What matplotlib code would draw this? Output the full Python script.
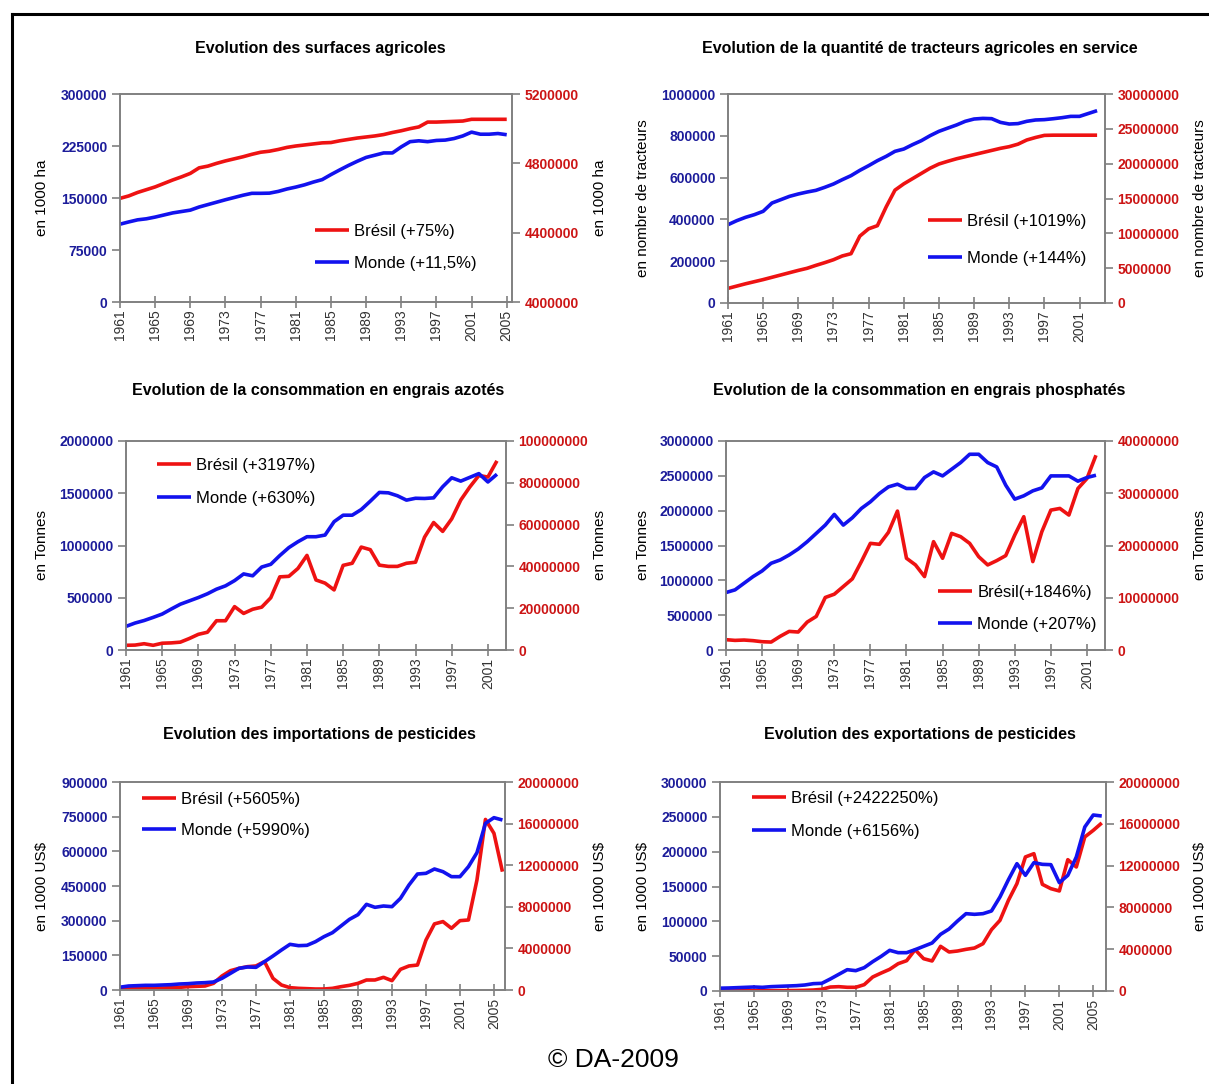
import matplotlib
matplotlib.use("Agg")
import matplotlib.pyplot as plt
from matplotlib.lines import Line2D
from matplotlib.ticker import MultipleLocator, FixedLocator

plt.rcParams['font.family'] = ['Liberation Sans', 'DejaVu Sans']

RED = '#ee1212'
BLUE = '#1212ee'
NAVY = '#1c1c9a'
DARKRED = '#cc1414'
GRID = '#808080'

# --- surfaces agricoles (1000 ha) ---
years_surf = list(range(1961, 2006))
bresil_surf = [149500, 153000, 158000, 162000, 166000, 171000, 176000, 180500, 185500, 193500,
               196000, 200000, 203500, 206500, 209500, 213000, 216000, 217500, 220000, 223000,
               225000, 226500, 228000, 229500, 230000, 232500, 234500, 236500, 238000, 239500,
               241500, 244500, 247000, 250000, 252500, 259500, 259500, 260000, 260500, 261000,
               263500, 263500, 263500, 263500, 263500]
monde_surf = [4449000, 4462000, 4474000, 4480000, 4490000, 4502000, 4514000, 4522000, 4530000, 4548000,
              4562000, 4576000, 4590000, 4603000, 4616000, 4627000, 4627000, 4628000, 4638000, 4652000,
              4663000, 4676000, 4692000, 4706000, 4735000, 4762000, 4788000, 4812000, 4834000, 4847000,
              4860000, 4860000, 4895000, 4925000, 4930000, 4925000, 4932000, 4934000, 4943000, 4958000,
              4980000, 4968000, 4968000, 4972000, 4965000]

# --- tracteurs ---
years_tract = list(range(1961, 2004))
bresil_tract = [70000, 81000, 92000, 102000, 112000, 123000, 134000, 145000, 156000, 166000,
                180000, 193000, 207000, 225000, 236000, 320000, 355000, 370000, 460000, 540000,
                570000, 595000, 620000, 645000, 665000, 678000, 690000, 700000, 710000, 720000,
                730000, 740000, 748000, 760000, 780000, 792000, 802000, 803000, 803000, 803000,
                803000, 803000, 803000]
monde_tract = [11.24e6, 11.82e6, 12.30e6, 12.68e6, 13.16e6, 14.35e6, 14.83e6, 15.31e6, 15.65e6, 15.93e6,
               16.17e6, 16.60e6, 17.08e6, 17.70e6, 18.28e6, 19.04e6, 19.71e6, 20.43e6, 21.05e6, 21.77e6,
               22.10e6, 22.73e6, 23.30e6, 24.02e6, 24.64e6, 25.10e6, 25.55e6, 26.08e6, 26.41e6, 26.50e6,
               26.46e6, 25.93e6, 25.69e6, 25.75e6, 26.08e6, 26.27e6, 26.32e6, 26.45e6, 26.60e6, 26.79e6,
               26.79e6, 27.20e6, 27.61e6]

# --- engrais azotes (tonnes) ---
years_azote = list(range(1961, 2003))
bresil_azote = [45000, 47000, 60000, 45000, 65000, 68000, 75000, 110000, 150000, 170000,
                280000, 280000, 415000, 350000, 390000, 410000, 500000, 700000, 705000, 780000,
                905000, 670000, 640000, 575000, 810000, 830000, 985000, 960000, 812000, 800000,
                800000, 830000, 840000, 1080000, 1220000, 1135000, 1255000, 1435000, 1560000, 1670000,
                1655000, 1810000]
monde_azote = [11.3e6, 12.9e6, 14.1e6, 15.6e6, 17.2e6, 19.6e6, 21.9e6, 23.5e6, 25.1e6, 26.9e6,
               29.1e6, 30.7e6, 33.2e6, 36.4e6, 35.5e6, 39.7e6, 41.0e6, 45.2e6, 49.0e6, 51.8e6,
               54.2e6, 54.2e6, 55.0e6, 61.4e6, 64.5e6, 64.5e6, 67.2e6, 71.2e6, 75.4e6, 75.2e6,
               73.8e6, 71.7e6, 72.6e6, 72.5e6, 72.8e6, 78.1e6, 82.4e6, 80.8e6, 82.6e6, 84.4e6,
               80.4e6, 84.1e6]

# --- engrais phosphates (tonnes) ---
years_phos = list(range(1961, 2003))
bresil_phos = [148000, 138000, 143000, 134000, 119000, 114000, 196000, 267000, 258000, 401000,
               482000, 754000, 801000, 911000, 1021000, 1269000, 1531000, 1517000, 1689000, 1994000,
               1317000, 1221000, 1054000, 1555000, 1317000, 1674000, 1627000, 1531000, 1340000, 1221000,
               1283000, 1355000, 1650000, 1913000, 1269000, 1698000, 2008000, 2032000, 1937000, 2318000,
               2461000, 2795000]
monde_phos = [11.0e6, 11.51e6, 12.78e6, 14.05e6, 15.13e6, 16.60e6, 17.23e6, 18.19e6, 19.33e6, 20.73e6,
              22.32e6, 23.91e6, 25.95e6, 23.91e6, 25.31e6, 27.09e6, 28.36e6, 29.95e6, 31.22e6, 31.73e6,
              30.91e6, 30.91e6, 33.01e6, 34.09e6, 33.32e6, 34.59e6, 35.87e6, 37.46e6, 37.46e6, 35.87e6,
              35.04e6, 31.54e6, 28.87e6, 29.51e6, 30.46e6, 31.03e6, 33.32e6, 33.32e6, 33.32e6, 32.31e6,
              33.01e6, 33.45e6]

# --- importations de pesticides (1000 US$) ---
years_imp = list(range(1961, 2007))
bresil_imp = [9000, 7200, 5800, 7200, 8700, 8700, 10100, 11500, 14400, 15900,
              17300, 28800, 60600, 83600, 93700, 101000, 104000, 123000, 50500, 21600,
              10100, 7200, 5800, 4300, 4300, 7200, 14400, 20200, 28800, 43300,
              43300, 54800, 40400, 89400, 104000, 108000, 216000, 286000, 296000, 267000,
              300000, 303000, 476000, 738000, 678000, 512000]
monde_imp = [0.27e6, 0.385e6, 0.417e6, 0.449e6, 0.449e6, 0.481e6, 0.513e6, 0.577e6, 0.609e6, 0.673e6,
             0.705e6, 0.769e6, 1.122e6, 1.603e6, 2.083e6, 2.212e6, 2.179e6, 2.724e6, 3.269e6, 3.846e6,
             4.391e6, 4.263e6, 4.295e6, 4.647e6, 5.128e6, 5.513e6, 6.154e6, 6.795e6, 7.244e6, 8.237e6,
             7.949e6, 8.077e6, 8.013e6, 8.814e6, 10.096e6, 11.154e6, 11.218e6, 11.635e6, 11.378e6, 10.897e6,
             10.897e6, 11.859e6, 13.205e6, 16.026e6, 16.570e6, 16.346e6]

# --- exportations de pesticides (1000 US$) ---
years_exp = list(range(1961, 2007))
bresil_exp = [10, 100, 200, 300, 300, 400, 500, 500, 600, 700,
              957, 1400, 2400, 5700, 6200, 5300, 5300, 9100, 20100, 25800,
              31100, 39200, 43500, 59300, 46400, 43100, 64100, 56000, 57400, 59800,
              61700, 67900, 88000, 101400, 130200, 154100, 192400, 197100, 153100, 146900,
              143600, 188500, 178000, 221100, 230600, 241200]
monde_exp = [0.27e6, 0.287e6, 0.319e6, 0.351e6, 0.383e6, 0.351e6, 0.415e6, 0.447e6, 0.478e6, 0.510e6,
             0.574e6, 0.702e6, 0.734e6, 1.148e6, 1.595e6, 2.041e6, 1.946e6, 2.233e6, 2.807e6, 3.317e6,
             3.892e6, 3.668e6, 3.668e6, 3.955e6, 4.274e6, 4.593e6, 5.423e6, 5.933e6, 6.699e6, 7.400e6,
             7.337e6, 7.400e6, 7.656e6, 8.995e6, 10.654e6, 12.185e6, 11.069e6, 12.281e6, 12.121e6, 12.089e6,
             10.367e6, 11.069e6, 12.823e6, 15.694e6, 16.842e6, 16.746e6]

W, H = 1209, 1084

panels = [
    dict(title="Evolution des surfaces agricoles", years=years_surf, br=bresil_surf, mo=monde_surf,
         lab_br="Brésil (+75%)", lab_mo="Monde (+11,5%)", ylabel="en 1000 ha",
         box=(120, 512, 94, 302), xmax=2005.6, lastlab=2005,
         yl=(0, 300000, 75000), yr=(4000000, 5200000, 400000),
         title_xy=(320, 48), ylab_x=(42, 600), leg=(315, 247.5), ls=1.0),
    dict(title="Evolution de la quantité de tracteurs agricoles en service", years=years_tract,
         br=bresil_tract, mo=monde_tract, lab_br="Brésil (+1019%)", lab_mo="Monde (+144%)",
         ylabel="en nombre de tracteurs", box=(728, 1105, 94, 303), xmax=2003.9, lastlab=2001,
         yl=(0, 1000000, 200000), yr=(0, 30000000, 5000000),
         title_xy=(920, 48), ylab_x=(643, 1200), leg=(928, 240), ls=1.3),
    dict(title="Evolution de la consommation en engrais azotés", years=years_azote,
         br=bresil_azote, mo=monde_azote, lab_br="Brésil (+3197%)", lab_mo="Monde (+630%)",
         ylabel="en Tonnes", box=(126, 506, 441, 650), xmax=2003.0, lastlab=2001,
         yl=(0, 2000000, 500000), yr=(0, 100000000, 20000000),
         title_xy=(318, 390), ylab_x=(42, 600), leg=(157, 482), ls=1.05),
    dict(title="Evolution de la consommation en engrais phosphatés", years=years_phos,
         br=bresil_phos, mo=monde_phos, lab_br="Brésil(+1846%)", lab_mo="Monde (+207%)",
         ylabel="en Tonnes", box=(726, 1105, 441, 650), xmax=2003.0, lastlab=2001,
         yl=(0, 3000000, 500000), yr=(0, 40000000, 10000000),
         title_xy=(919, 390), ylab_x=(643, 1200), leg=(938, 608.5), ls=1.0),
    dict(title="Evolution des importations de pesticides", years=years_imp,
         br=bresil_imp, mo=monde_imp, lab_br="Brésil (+5605%)", lab_mo="Monde (+5990%)",
         ylabel="en 1000 US$", box=(120, 505, 782, 990), xmax=2006.3, lastlab=2005,
         yl=(0, 900000, 150000), yr=(0, 20000000, 4000000),
         title_xy=(319, 735), ylab_x=(42, 600), leg=(142, 815), ls=0.95),
    dict(title="Evolution des exportations de pesticides", years=years_exp,
         br=bresil_exp, mo=monde_exp, lab_br="Brésil (+2422250%)", lab_mo="Monde (+6156%)",
         ylabel="en 1000 US$", box=(720, 1106, 782, 991), xmax=2006.5, lastlab=2005,
         yl=(0, 300000, 50000), yr=(0, 20000000, 4000000),
         title_xy=(920, 735), ylab_x=(643, 1200), leg=(752, 815), ls=1.05),
]

fig = plt.figure(figsize=(W / 100, H / 100), dpi=100)

for p in panels:
    l, r, t, b = p['box']
    ax = fig.add_axes([l / W, 1 - b / H, (r - l) / W, (b - t) / H])
    ax2 = ax.twinx()
    ax2.set_position(ax.get_position())

    lb, = ax.plot(p['years'], p['br'], color=RED, lw=2.6, solid_capstyle='butt')
    lm, = ax2.plot(p['years'], p['mo'], color=BLUE, lw=2.6, solid_capstyle='butt')

    ax.set_xlim(1961, p['xmax'])
    ax.set_ylim(p['yl'][0], p['yl'][1])
    ax2.set_ylim(p['yr'][0], p['yr'][1])
    ax.yaxis.set_major_locator(MultipleLocator(p['yl'][2]))
    ax2.yaxis.set_major_locator(MultipleLocator(p['yr'][2]))
    ax.xaxis.set_major_locator(FixedLocator(list(range(1961, p['lastlab'] + 1, 4))))
    ax.ticklabel_format(style='plain', useOffset=False, axis='y')
    ax2.ticklabel_format(style='plain', useOffset=False, axis='y')

    for a in (ax, ax2):
        for s in a.spines.values():
            s.set_color(GRID)
            s.set_linewidth(1.2)
    ax.tick_params(axis='x', direction='inout', length=9, width=1.2, color=GRID,
                   labelrotation=90, labelsize=10, labelcolor='#333333', pad=1)
    ax.tick_params(axis='y', direction='out', length=6, width=1.2, color=GRID,
                   labelsize=10, labelcolor=NAVY, pad=3)
    ax2.tick_params(axis='y', direction='out', length=6, width=1.2, color=GRID,
                    labelsize=10, labelcolor=DARKRED, pad=3)
    for lab in ax.get_yticklabels():
        lab.set_fontweight('bold')
    for lab in ax2.get_yticklabels():
        lab.set_fontweight('bold')

    fig.text(p['title_xy'][0] / W, 1 - p['title_xy'][1] / H, p['title'],
             ha='center', va='center', fontsize=11.5, fontweight='bold')
    yc = 1 - (t + b) / 2 / H
    fig.text(p['ylab_x'][0] / W, yc, p['ylabel'], rotation=90, ha='center', va='center', fontsize=11)
    fig.text(p['ylab_x'][1] / W, yc, p['ylabel'], rotation=90, ha='center', va='center', fontsize=11)

    ax2.legend([lb, lm], [p['lab_br'], p['lab_mo']], loc='center left',
               bbox_to_anchor=(p['leg'][0] / W, 1 - p['leg'][1] / H),
               bbox_transform=fig.transFigure, frameon=False, fontsize=12,
               handlelength=2.05, handletextpad=0.3, labelspacing=p['ls'],
               borderpad=0, borderaxespad=0)

fig.text(613 / W, 1 - 1060 / H, '© DA-2009', ha='center', va='center', fontsize=19)

# cadre
fig.add_artist(Line2D([12 / W, 1], [1 - 14 / H, 1 - 14 / H], transform=fig.transFigure,
                      color='black', lw=2.2))
fig.add_artist(Line2D([12 / W, 12 / W], [1 - 14 / H, 0], transform=fig.transFigure,
                      color='black', lw=2.2))

fig.savefig('out.png', dpi=100)
